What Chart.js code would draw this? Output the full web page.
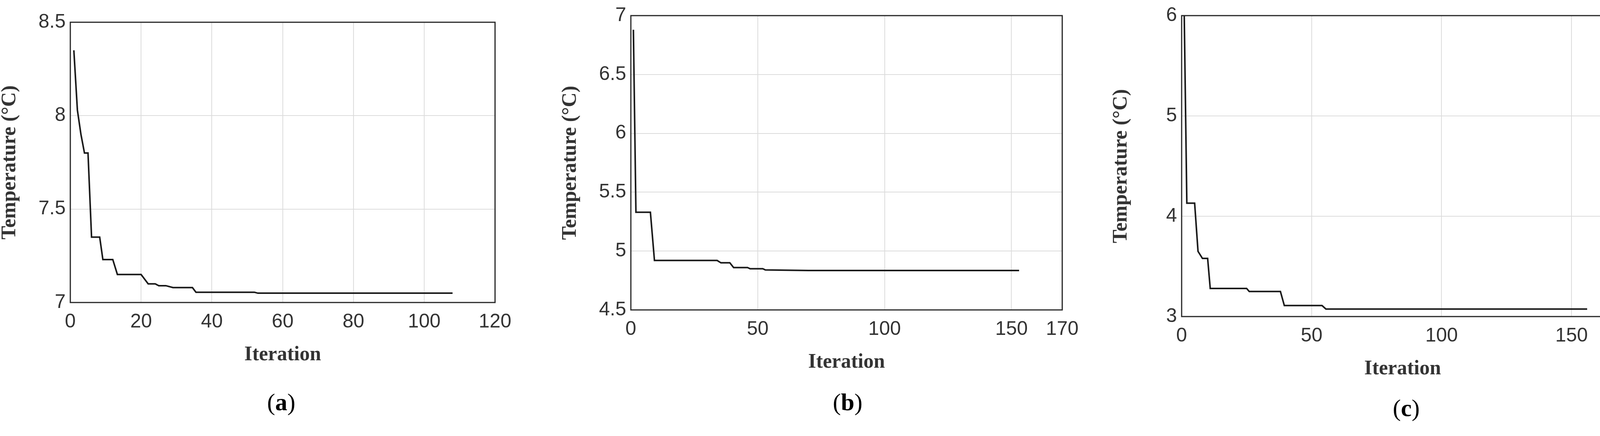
<!DOCTYPE html>
<html>
<head>
<meta charset="utf-8">
<script src="https://cdn.jsdelivr.net/npm/chart.js@4.4.1/dist/chart.umd.min.js"></script>
<style>
  html, body { margin: 0; padding: 0; overflow: hidden; }
  body { background: #fff; width: 4221px; height: 1117px; position: relative; }
  canvas { position: absolute; }
  .cap { position: absolute; font-family: "Liberation Serif", serif; font-size: 62px; color: #000; transform: translateX(-50%); }
  .cap b { font-weight: bold; }
</style>
</head>
<body>
<canvas id="ca"></canvas>
<canvas id="cb"></canvas>
<canvas id="cc"></canvas>
<div class="cap" style="left:720px;top:995px">(<b>a</b>)</div>
<div class="cap" style="left:2170px;top:995px">(<b>b</b>)</div>
<div class="cap" style="left:3600px;top:1010px">(<b>c</b>)</div>
<script>
// panel (a)
const iterA = [1, 2, 3, 4, 5, 6, 8.3, 9.2, 12, 13.3, 20, 22, 24, 25, 27, 29, 34.5, 35.5, 52, 53, 108];
const tempA = [8.35, 8.03, 7.9, 7.8, 7.8, 7.35, 7.35, 7.23, 7.23, 7.15, 7.15, 7.1, 7.1, 7.09, 7.09, 7.08, 7.08, 7.055, 7.055, 7.05, 7.05];
const xTicksA = [0, 20, 40, 60, 80, 100, 120];
const yTicksA = [7, 7.5, 8, 8.5];

// panel (b)
const iterB = [1, 2, 7.7, 9.3, 34, 35.5, 39, 40.5, 46, 47, 52, 53, 70, 153];
const tempB = [6.88, 5.33, 5.33, 4.92, 4.92, 4.9, 4.9, 4.86, 4.86, 4.85, 4.85, 4.84, 4.835, 4.835];
const xTicksB = [0, 50, 100, 150, 170];
const yTicksB = [4.5, 5, 5.5, 6, 6.5, 7];

// panel (c)
const iterC = [1, 2, 5, 6.3, 8, 10, 11, 25, 26, 38, 39.5, 54, 55.5, 156];
const tempC = [6, 4.13, 4.13, 3.65, 3.58, 3.58, 3.28, 3.28, 3.25, 3.25, 3.11, 3.11, 3.075, 3.075];
const xTicksC = [0, 50, 100, 150, 170];
const yTicksC = [3, 4, 5, 6];

const LEFT = 190, TOP = 40, RIGHT = 50, BOTTOM = 170;

// draws the closed MATLAB-style box around the plot area
const boxPlugin = {
  id: 'box',
  afterDraw(chart) {
    const { ctx, chartArea: a } = chart;
    ctx.save();
    ctx.strokeStyle = '#262626';
    ctx.lineWidth = 3;
    ctx.strokeRect(a.left, a.top, a.right - a.left, a.bottom - a.top);
    ctx.restore();
  }
};

function makePanel(canvasId, plot, xs, ys, xTicks, yTicks) {
  const cv = document.getElementById(canvasId);
  const w = plot.right - plot.left + LEFT + RIGHT;
  const h = plot.bottom - plot.top + TOP + BOTTOM;
  cv.width = w;
  cv.height = h;
  Object.assign(cv.style, { left: (plot.left - LEFT) + 'px', top: (plot.top - TOP) + 'px', width: w + 'px', height: h + 'px' });

  const tickFont = { family: 'Liberation Sans, Arial', size: 50 };
  const titleFont = { family: 'Liberation Serif, serif', size: 52, weight: 'bold' };

  return new Chart(cv, {
    type: 'line',
    data: {
      datasets: [{
        data: xs.map((x, i) => ({ x, y: ys[i] })),
        borderColor: '#1a1a1a',
        borderWidth: 4,
        pointRadius: 0,
        tension: 0
      }]
    },
    options: {
      responsive: false,
      devicePixelRatio: 1,
      animation: false,
      layout: { padding: { top: TOP, right: RIGHT } },
      plugins: { legend: { display: false }, tooltip: { enabled: false } },
      scales: {
        x: {
          type: 'linear',
          min: xTicks[0],
          max: xTicks[xTicks.length - 1],
          afterBuildTicks: s => { s.ticks = xTicks.map(v => ({ value: v })); },
          afterFit: s => { s.height = BOTTOM; },
          grid: { color: '#dcdcdc', lineWidth: 2, drawTicks: false },
          border: { display: false },
          ticks: { font: tickFont, color: '#333', padding: 20, maxRotation: 0, callback: v => String(v) },
          title: { display: true, text: 'Iteration', font: titleFont, color: '#333', padding: { top: 10 } }
        },
        y: {
          min: yTicks[0],
          max: yTicks[yTicks.length - 1],
          afterBuildTicks: s => { s.ticks = yTicks.map(v => ({ value: v })); },
          afterFit: s => { s.width = LEFT; },
          grid: { color: '#dcdcdc', lineWidth: 2, drawTicks: false },
          border: { display: false },
          ticks: { font: tickFont, color: '#333', padding: 12, callback: v => String(v) },
          title: { display: true, text: 'Temperature (°C)', font: titleFont, color: '#333', padding: { bottom: 0 } }
        }
      }
    },
    plugins: [boxPlugin]
  });
}

makePanel('ca', { left: 180, right: 1279, top: 55, bottom: 775 }, iterA, tempA, xTicksA, yTicksA);
makePanel('cb', { left: 1615, right: 2731, top: 38, bottom: 794 }, iterB, tempB, xTicksB, yTicksB);
makePanel('cc', { left: 3025, right: 4168, top: 38, bottom: 811 }, iterC, tempC, xTicksC, yTicksC);
</script>
</body>
</html>
